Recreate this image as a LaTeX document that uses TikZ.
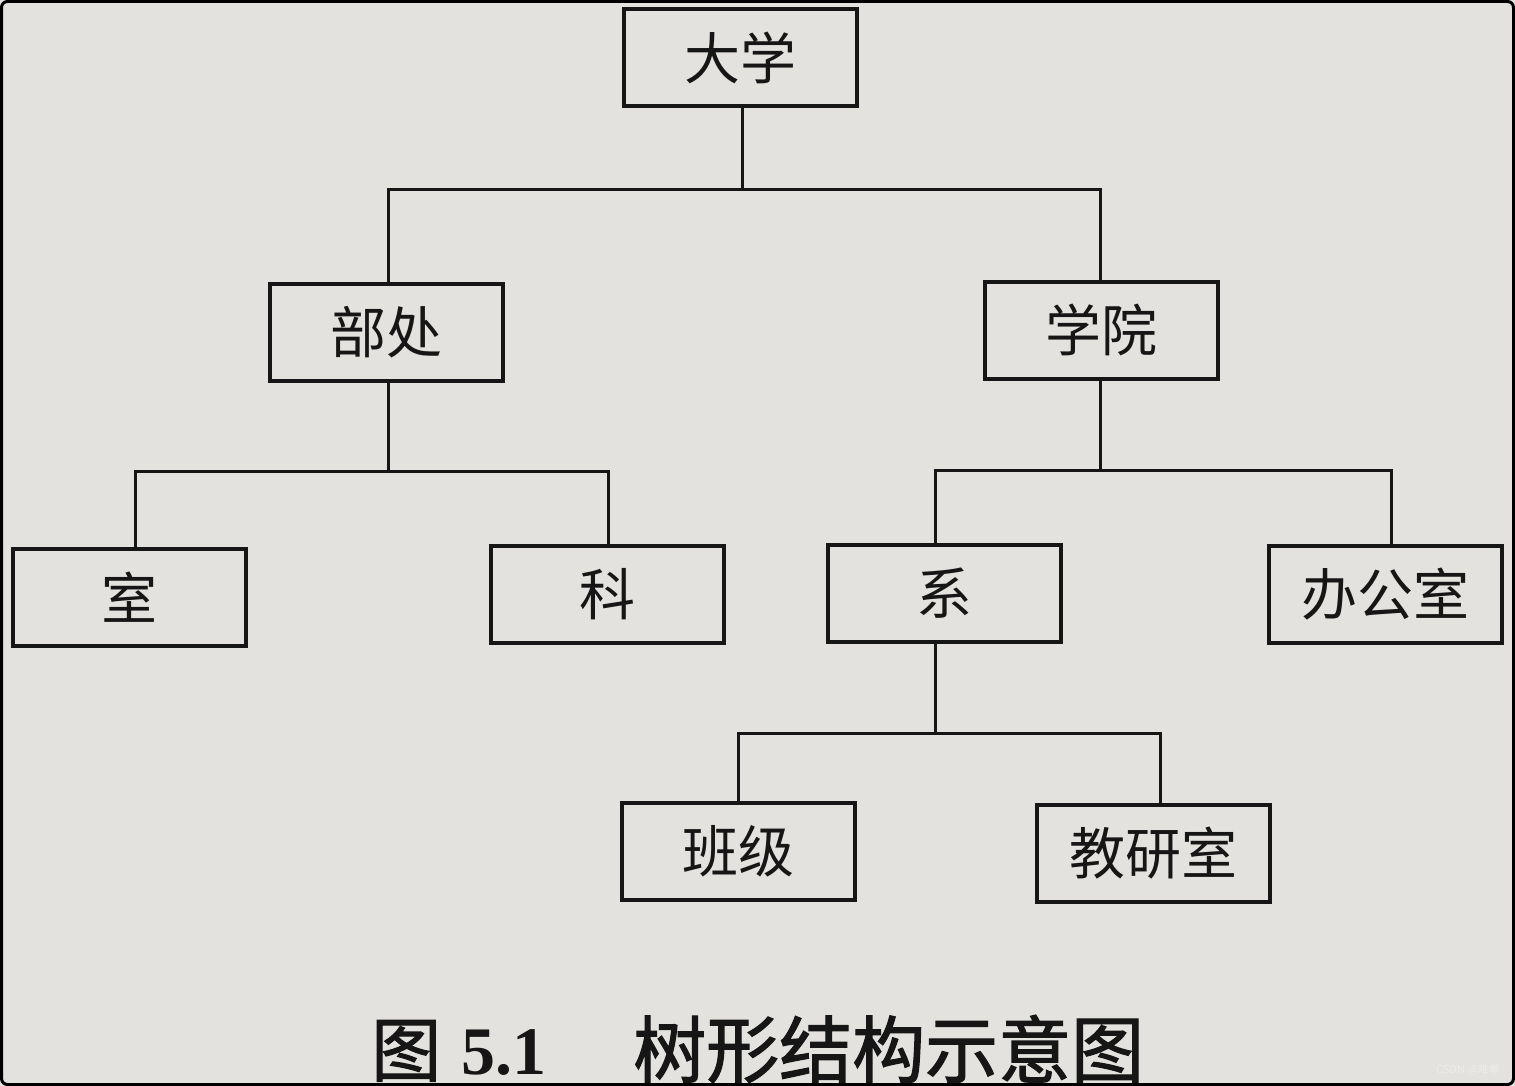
\documentclass[tikz,border=0pt]{standalone}
\usepackage{fontspec}
\newfontfamily\cjk{Noto Sans CJK SC}
\newfontfamily\cjkcap[FakeBold=1.6]{Noto Sans CJK SC}
\newfontfamily\serifb[BoldFont={Liberation Serif Bold}]{Liberation Serif}
\usetikzlibrary{calc}
\definecolor{paper}{HTML}{E4E2DE}
\definecolor{ink}{HTML}{161616}
\tikzset{
  box/.style={draw=ink, line width=4pt, minimum width=233pt, minimum height=97pt,
    inner sep=0pt, text=ink, font=\cjk\fontsize{56}{60}\selectfont},
  conn/.style={draw=ink, line width=3pt},
  captext/.style={anchor=base west, text=ink, inner sep=0pt},
}
\begin{document}
\begin{tikzpicture}[x=1pt,y=-1pt]
\useasboundingbox (0,0) rectangle (1515,1086);
\fill[paper] (0,0) rectangle (1515,1086);
% nodes
\node[box] (daxue)   at (740,58)   {大学};
\node[box] (buchu)   at (386,332)  {部处};
\node[box] (xueyuan) at (1101,330) {学院};
\node[box] (shi)     at (129,597)  {室};
\node[box] (ke)      at (607,594)  {科};
\node[box] (xi)      at (944,593)  {系};
\node[box] (bgs)     at (1385,594) {办公室};
\node[box] (banji)   at (738,851)  {班级};
\node[box] (jys)     at (1153,853) {教研室};
% junctions
\coordinate (j1) at (742,190);
\coordinate (j2) at (388,471);
\coordinate (j3) at (1100,470);
\coordinate (j4) at (935,733);
% connectors
\draw[conn] ([xshift=2pt]daxue.south) -- (j1);
\draw[conn] ([xshift=2pt]buchu.north) |- (j1) -| ([xshift=-1pt]xueyuan.north);
\draw[conn] ([xshift=2pt]buchu.south) -- (j2);
\draw[conn] ([xshift=6pt]shi.north) |- (j2) -| ([xshift=1pt]ke.north);
\draw[conn] ([xshift=-1pt]xueyuan.south) -- (j3);
\draw[conn] ([xshift=-9pt]xi.north) |- (j3) -| ([xshift=6pt]bgs.north);
\draw[conn] ([xshift=-9pt]xi.south) -- (j4);
\draw[conn] (banji.north) |- (j4) -| ([xshift=7pt]jys.north);
% caption
\node[captext, font=\cjkcap\fontsize{70}{72}\selectfont] (cap1) at (371,1076) {图};
\node[captext, font=\serifb\bfseries\fontsize{68}{72}\selectfont] (cap2) at (461,1074) {5.1};
\node[captext, font=\cjkcap\fontsize{73}{76}\selectfont] (cap3) at (633,1077) {树形结构示意图};
% watermark
\node[anchor=east, text=white!85!gray, inner sep=0pt, font=\cjk\fontsize{11}{12}\selectfont] (wm) at (1500,1070) {CSDN @难拳};
% frame
\draw[black, line width=3pt, rounded corners=6pt] (1.5,1.5) rectangle (1513.5,1084.5);
\end{tikzpicture}
\end{document}
